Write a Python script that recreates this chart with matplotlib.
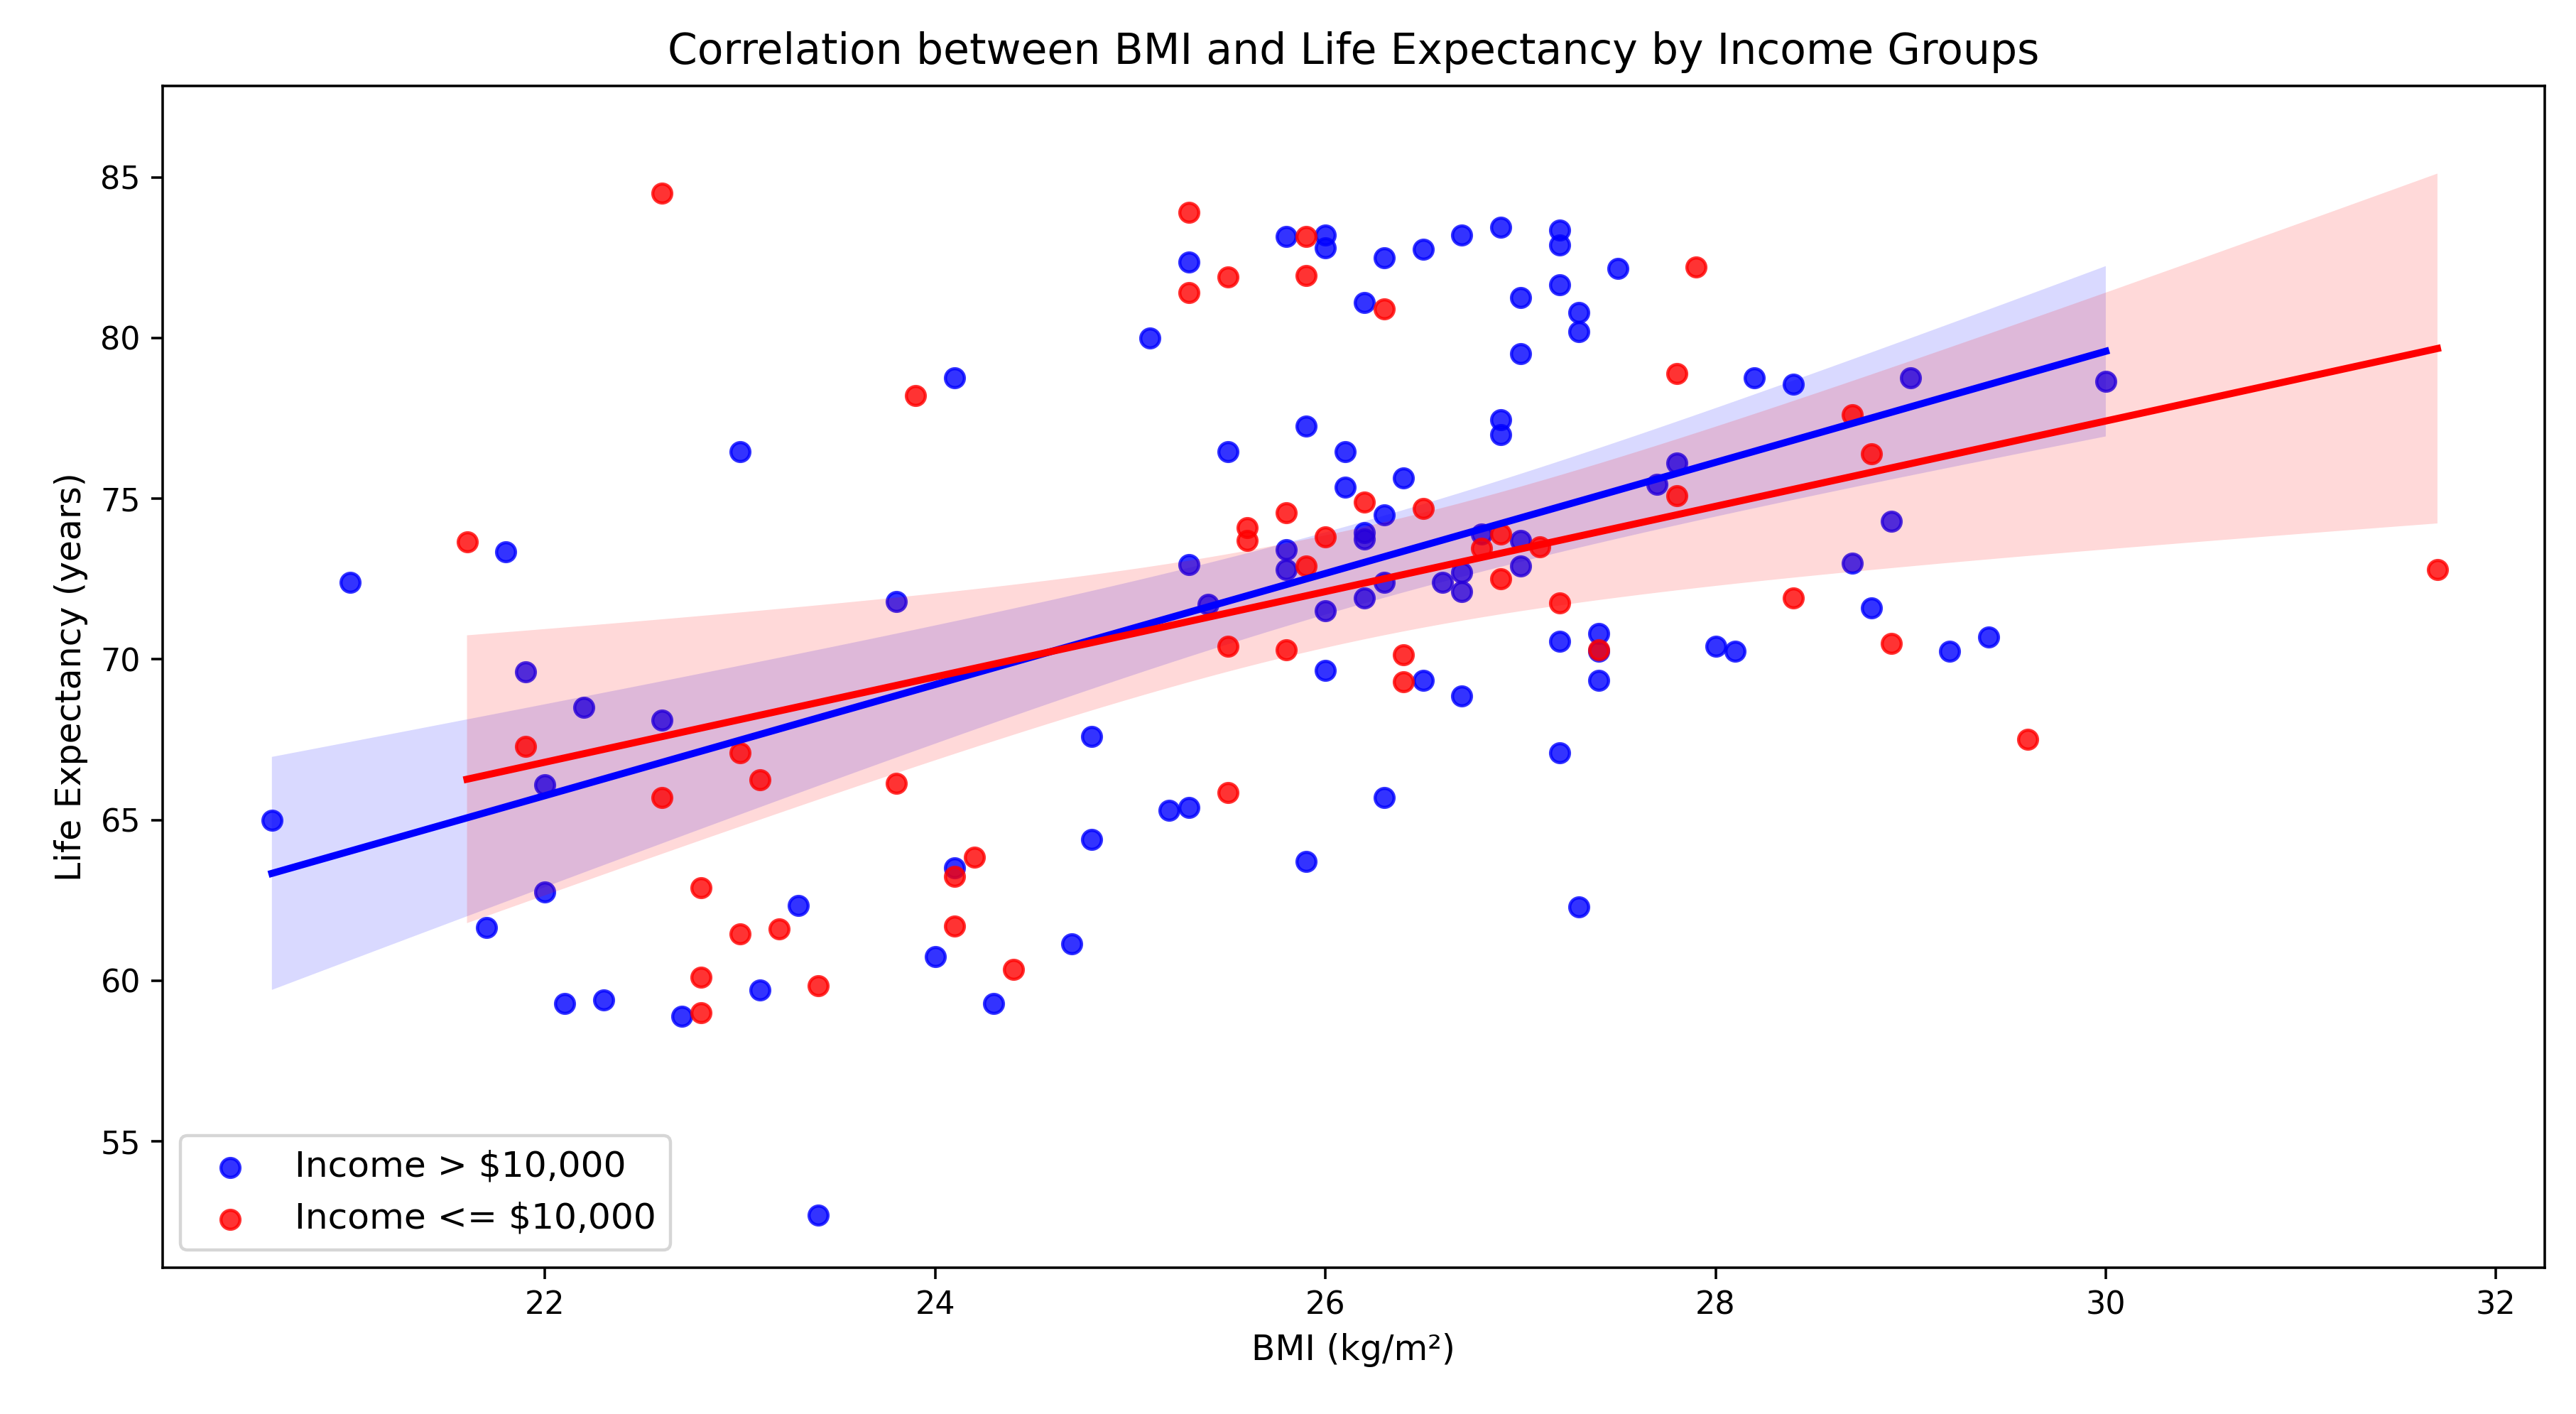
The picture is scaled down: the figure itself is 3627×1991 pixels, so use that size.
import numpy as np
import matplotlib
matplotlib.use("Agg")
import matplotlib.pyplot as plt

# ---------------- data ----------------
high_bmi = [20.6, 21.0, 21.7, 21.8, 21.9, 22.0, 22.0, 22.1, 22.2, 22.3, 22.6, 22.7,
            23.0, 23.1, 23.3, 23.4, 23.8, 24.0, 24.1, 24.1, 24.3, 24.7, 24.8, 24.8,
            25.1, 25.2, 25.3, 25.3, 25.3, 25.4, 25.5, 25.8, 25.8, 25.8, 25.9, 25.9,
            26.0, 26.0, 26.0, 26.0, 26.1, 26.1, 26.2, 26.2, 26.2, 26.2, 26.3, 26.3,
            26.3, 26.3, 26.4, 26.5, 26.5, 26.6, 26.7, 26.7, 26.7, 26.7, 26.8, 26.9,
            26.9, 26.9, 27.0, 27.0, 27.0, 27.0, 27.2, 27.2, 27.2, 27.2, 27.2, 27.3,
            27.3, 27.3, 27.4, 27.4, 27.4, 27.5, 27.7, 27.8, 28.0, 28.1, 28.2, 28.4,
            28.7, 28.8, 28.9, 29.0, 29.2, 29.4, 30.0]
high_life = [65.0, 72.4, 61.65, 73.35, 69.6, 66.1, 62.75, 59.3, 68.5, 59.4, 68.1, 58.9,
             76.45, 59.7, 62.35, 52.7, 71.8, 60.75, 78.75, 63.5, 59.3, 61.15, 67.6, 64.4,
             80.0, 65.3, 65.4, 82.35, 72.95, 71.7, 76.45, 83.15, 73.4, 72.8, 77.25, 63.7,
             83.2, 82.8, 71.5, 69.65, 76.45, 75.35, 81.1, 73.95, 73.75, 71.9, 82.5, 74.5,
             72.4, 65.7, 75.65, 82.75, 69.35, 72.4, 83.2, 72.7, 72.1, 68.85, 73.9, 83.45,
             77.45, 77.0, 81.25, 79.5, 73.7, 72.9, 83.35, 82.9, 81.65, 70.55, 67.1, 80.8,
             80.2, 62.3, 70.8, 70.25, 69.35, 82.15, 75.45, 76.1, 70.4, 70.25, 78.75, 78.55,
             73.0, 71.6, 74.3, 78.75, 70.25, 70.7, 78.65]

low_bmi = [21.6, 21.9, 22.6, 22.6, 22.8, 22.8, 22.8, 23.0, 23.0, 23.1, 23.2, 23.4,
           23.8, 23.9, 24.1, 24.1, 24.2, 24.4, 25.3, 25.3, 25.5, 25.5, 25.5, 25.6,
           25.6, 25.8, 25.8, 25.9, 25.9, 25.9, 26.0, 26.2, 26.3, 26.4, 26.4, 26.5,
           26.8, 26.9, 26.9, 27.1, 27.2, 27.4, 27.8, 27.8, 27.9, 28.4, 28.7, 28.8,
           28.9, 29.6, 31.7]
low_life = [73.65, 67.3, 84.5, 65.7, 62.9, 60.1, 59.0, 67.1, 61.45, 66.25, 61.6, 59.85,
            66.15, 78.2, 63.25, 61.7, 63.85, 60.35, 83.9, 81.4, 81.9, 70.4, 65.85, 74.1,
            73.7, 74.55, 70.3, 83.15, 81.95, 72.9, 73.8, 74.9, 80.9, 70.15, 69.3, 74.7,
            73.45, 73.9, 72.5, 73.5, 71.75, 70.3, 78.9, 75.1, 82.2, 71.9, 77.6, 76.4,
            70.5, 67.5, 72.8]

labels = ["Income > $10,000", "Income <= $10,000"]
colors = ["blue", "red"]


def regression_band(x, y, z=1.96):
    """OLS fit with a heteroscedasticity-robust (HC3) 95% band, which
    behaves like seaborn's pairs-bootstrap band but is deterministic."""
    x = np.asarray(x, float)
    y = np.asarray(y, float)
    X = np.column_stack([np.ones_like(x), x])
    XtX_inv = np.linalg.inv(X.T @ X)
    beta = XtX_inv @ X.T @ y
    resid = y - X @ beta
    h = np.einsum("ij,jk,ik->i", X, XtX_inv, X)
    w = (resid / (1 - h)) ** 2
    V = XtX_inv @ (X.T * w) @ X @ XtX_inv
    grid = np.linspace(x.min(), x.max(), 100)
    G = np.column_stack([np.ones_like(grid), grid])
    yhat = G @ beta
    se = np.sqrt(np.einsum("ij,jk,ik->i", G, V, G))
    return grid, yhat, yhat - z * se, yhat + z * se


W, H, DPI = 3627, 1991, 320
fig = plt.figure(figsize=(W / DPI, H / DPI), dpi=DPI)
ax = fig.add_axes([229 / W, 1 - 1785 / H, (3583 - 229) / W, (1785 - 121) / H])

for xs, ys, c, lab in zip([high_bmi, low_bmi], [high_life, low_life], colors, labels):
    ax.scatter(xs, ys, s=36, color=c, alpha=0.8, linewidths=1.0, label=lab)
    g, yh, lo, hi = regression_band(xs, ys)
    ax.plot(g, yh, color=c, linewidth=2.25)
    ax.fill_between(g, lo, hi, facecolor=c, alpha=0.15)

ax.set_xlim(20.04, 32.25)
ax.set_ylim(51.07, 87.84)
ax.set_xticks([22, 24, 26, 28, 30, 32])
ax.set_yticks([55, 60, 65, 70, 75, 80, 85])
ax.tick_params(labelsize=10)
ax.set_title("Correlation between BMI and Life Expectancy by Income Groups", fontsize=13.5, pad=7)
ax.set_xlabel("BMI (kg/m²)", fontsize=11)
ax.set_ylabel("Life Expectancy (years)", fontsize=11)
ax.legend(loc="lower left", fontsize=11.3)

fig.savefig("out.png", dpi=DPI)
